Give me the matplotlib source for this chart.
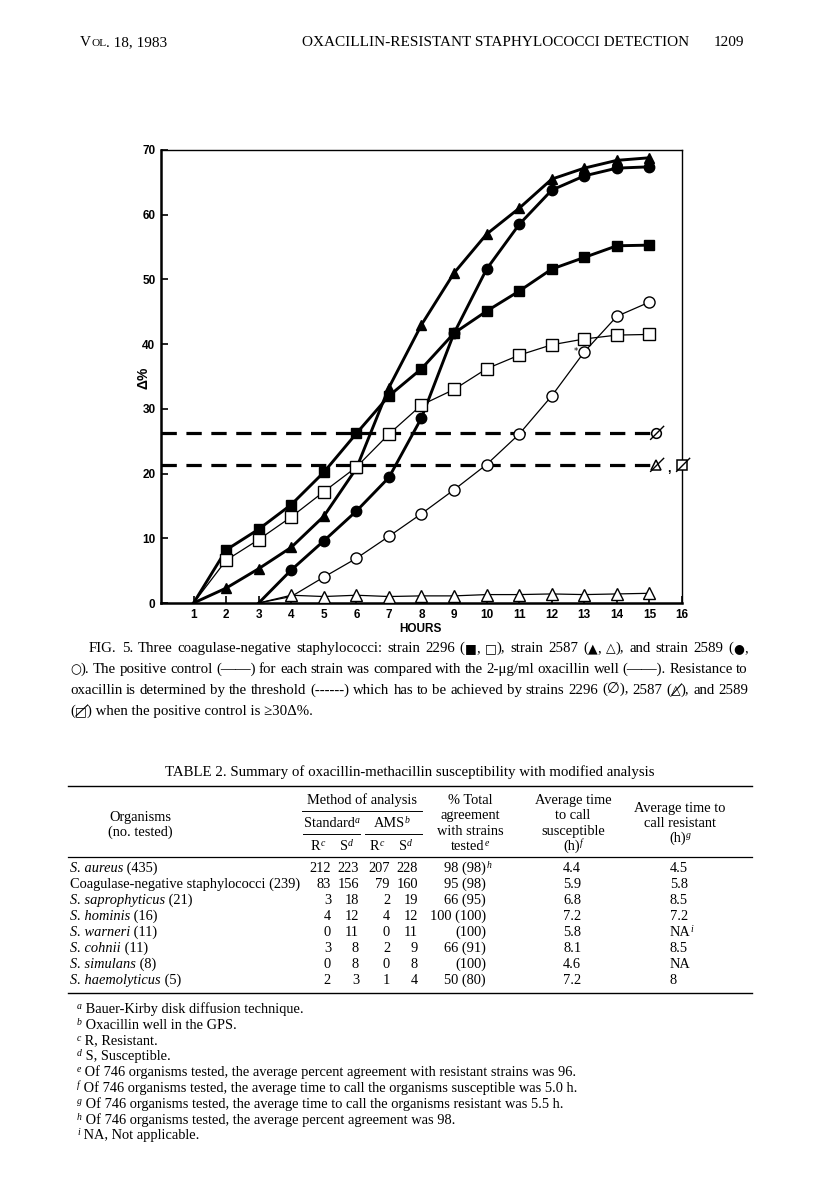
import numpy as np
import matplotlib.pyplot as plt
from matplotlib.path import Path

W, H = 816, 1201

# ---- chart data (delta % vs hours) ----
hours_a = [1, 2, 3, 4, 5, 6, 7, 8, 9, 10, 11, 12, 13, 14, 15]
hours_b = [3, 4, 5, 6, 7, 8, 9, 10, 11, 12, 13, 14, 15]
s2296_pos = [0, 8.2, 11.4, 15.2, 20.2, 26.2, 32.0, 36.2, 41.7, 45.1, 48.2, 51.6, 53.4, 55.2, 55.3]
s2296_oxa = [0, 6.6, 9.8, 13.3, 17.2, 21.0, 26.1, 30.6, 33.0, 36.2, 38.3, 39.9, 40.8, 41.4, 41.5]
s2587_pos = [0, 2.3, 5.3, 8.6, 13.4, 20.8, 33.3, 43.0, 51.0, 57.0, 61.0, 65.5, 67.2, 68.4, 68.8]
s2587_oxa = [0, 1.2, 1.0, 1.2, 1.0, 1.1, 1.1, 1.3, 1.3, 1.4, 1.3, 1.4, 1.5]
s2589_pos = [0, 5.1, 9.6, 14.2, 19.4, 28.6, 41.7, 51.6, 58.5, 63.8, 66.0, 67.2, 67.4]
s2589_oxa = [0, 1.0, 4.0, 6.9, 10.3, 13.8, 17.5, 21.4, 26.1, 32.0, 38.8, 44.3, 46.5]
thresholds = [26.2, 21.3]
threshold_end = 15.2
x_ticks = list(range(1, 17))
y_ticks = [0, 10, 20, 30, 40, 50, 60, 70]

# ---- table data ----
organisms = [("S. aureus", " (435)"), ("", "Coagulase-negative staphylococci (239)"),
             ("S. saprophyticus", " (21)"), ("S. hominis", " (16)"), ("S. warneri", " (11)"),
             ("S. cohnii", " (11)"), ("S. simulans", " (8)"), ("S. haemolyticus", " (5)")]
std_r = ["212", "83", "3", "4", "0", "3", "0", "2"]
std_s = ["223", "156", "18", "12", "11", "8", "8", "3"]
ams_r = ["207", "79", "2", "4", "0", "2", "0", "1"]
ams_s = ["228", "160", "19", "12", "11", "9", "8", "4"]
agreement = [("98 (98)", "h"), ("95 (98)", ""), ("66 (95)", ""), ("100 (100)", ""),
             ("(100)", ""), ("66 (91)", ""), ("(100)", ""), ("50 (80)", "")]
time_susc = ["4.4", "5.9", "6.8", "7.2", "5.8", "8.1", "4.6", "7.2"]
time_res = [("4.5", ""), ("5.8", ""), ("8.5", ""), ("7.2", ""), ("NA", "i"),
            ("8.5", ""), ("NA", ""), ("8", "")]
footnotes = [("a", "Bauer-Kirby disk diffusion technique."),
             ("b", "Oxacillin well in the GPS."),
             ("c", "R, Resistant."),
             ("d", "S, Susceptible."),
             ("e", "Of 746 organisms tested, the average percent agreement with resistant strains was 96."),
             ("f", "Of 746 organisms tested, the average time to call the organisms susceptible was 5.0 h."),
             ("g", "Of 746 organisms tested, the average time to call the organisms resistant was 5.5 h."),
             ("h", "Of 746 organisms tested, the average percent agreement was 98."),
             ("i", "NA, Not applicable.")]

SERIF = ['Liberation Serif', 'DejaVu Sans']
SANS = ['Liberation Sans', 'DejaVu Sans']
FS = 10.7
TFS = 10.4  # table body

fig = plt.figure(figsize=(W / 100, H / 100), dpi=100)
renderer = fig.canvas.get_renderer()


def put(x, y, s, **kw):
    kw.setdefault('family', SERIF)
    kw.setdefault('fontsize', FS)
    kw.setdefault('va', 'baseline')
    return fig.text(x / W, 1 - y / H, s, **kw)


def hline(x0, x1, y, lw=0.8):
    fig.add_artist(plt.Line2D([x0 / W, x1 / W], [1 - y / H] * 2, color='black', lw=lw))


def slash_over(t, y):
    # short stroke through a glyph (crossed triangle / square)
    bb = t.get_window_extent(renderer)
    base = H - y
    fig.add_artist(plt.Line2D([(bb.x0 + 1) / W, (bb.x1 + 1) / W],
                              [(base - 1) / H, (base + 10) / H], color='black', lw=0.8))


def place(pieces, x, y):
    """Draw (text, style) pieces side by side from x; returns end x."""
    cur = x
    for s, opt in pieces:
        opt = dict(opt)
        dy = opt.pop('dy', 0)
        sl = opt.pop('slash', False)
        t = put(cur, y + dy, s, **opt)
        cur += t.get_window_extent(renderer).width
        if sl:
            slash_over(t, y)
    return cur


def width(pieces):
    tot = 0
    for s, opt in pieces:
        opt = {k: v for k, v in opt.items() if k not in ('dy', 'slash')}
        t = put(0, 0, s, **opt)
        tot += t.get_window_extent(renderer).width
        t.remove()
    return tot


def run(x, y, parts, ha='left'):
    w = width(parts)
    x0 = x - w if ha == 'right' else (x - w / 2 if ha == 'center' else x)
    return place(parts, x0, y)


def justify(x0, x1, y, parts):
    tokens = [[]]
    for s, opt in parts:
        frags = s.split(' ')
        for k, fr in enumerate(frags):
            if k > 0:
                tokens.append([])
            if fr:
                tokens[-1].append((fr, opt))
    tokens = [t for t in tokens if t]
    widths = [width(t) for t in tokens]
    gap = (x1 - x0 - sum(widths)) / (len(tokens) - 1)
    cur = x0
    for t, w in zip(tokens, widths):
        place(t, cur, y)
        cur += w + gap


# ---- page header ----
run(80, 46, [("V", {'fontsize': 11}), ("OL", {'fontsize': 8.2}), (". 18, 1983", {'fontsize': 11})])
put(302, 46, "OXACILLIN-RESISTANT STAPHYLOCOCCI DETECTION", fontsize=11)
put(744, 46, "1209", ha='right', fontsize=11)

# ---- chart ----
ax = fig.add_axes([161 / W, 1 - 603 / H, (682 - 161) / W, (603 - 150) / H])
ax.set_xlim(0, 16)
ax.set_ylim(0, 70)

thick = dict(color='black', lw=2.1, ms=7.5, mec='black', zorder=4)
thin = dict(color='black', lw=0.9, ms=8, mec='black', mfc='white', mew=1.0, zorder=5)
ax.plot(hours_a, s2296_pos, marker='s', markevery=range(1, 15), **thick)
ax.plot(hours_a, s2587_pos, marker='^', markevery=range(1, 15), **thick)
ax.plot(hours_b, s2589_pos, marker='o', markevery=range(1, 13), **thick)
ax.plot(hours_a, s2296_oxa, marker='s', markevery=range(1, 15), **thin)
ax.plot(hours_b, s2589_oxa, marker='o', markevery=range(2, 13), **thin)
ax.plot(hours_b, s2587_oxa, marker='^', markevery=range(1, 13), **thin)

for yv in thresholds:
    ax.plot([0, threshold_end], [yv, yv], color='black', lw=2.3,
            dashes=(4.8, 3.0), zorder=3)

slash = Path([(-1, -1), (1.2, 1.2)], [Path.MOVETO, Path.LINETO])
end_marks = [(threshold_end, thresholds[0], 'o'), (threshold_end, thresholds[1], '^'),
             (16, thresholds[1], 's')]
for xm, ym, mk in end_marks:
    ax.plot([xm], [ym], marker=mk, ms=7, mfc='white', mec='black', mew=1.1,
            clip_on=False, zorder=6)
    ax.plot([xm], [ym], marker=slash, ms=11, mec='black', mew=1.0,
            clip_on=False, zorder=7)
ax.text(15.6, thresholds[1] - 0.6, ',', fontsize=9, ha='center', va='center',
        family=SANS, fontweight='bold')
ax.text(12.75, 38.9, '*', fontsize=6, ha='center', va='center')

ax.set_xticks(x_ticks)
ax.set_yticks(y_ticks)
ax.tick_params(direction='in', length=5, width=1.2, pad=4, labelsize=8.5)
for lab in ax.get_xticklabels() + ax.get_yticklabels():
    lab.set_family(SANS)
    lab.set_fontweight('bold')
for side in ['left', 'bottom']:
    ax.spines[side].set_linewidth(1.8)
for side in ['top', 'right']:
    ax.spines[side].set_linewidth(1.0)

put(143, 378, "\u0394%", family=SANS, fontweight='bold', fontsize=10,
    rotation=90, ha='center', va='center')
put(420, 632, "HOURS", family=SANS, fontweight='bold', fontsize=8.5, ha='center')

# ---- figure caption ----
sym = {'family': ['DejaVu Sans'], 'fontsize': 9}
justify(89, 748, 652, [("FIG. 5. Three coagulase-negative staphylococci: strain 2296 (", {}),
                       ("\u25a0", sym), (", ", {}), ("\u25a1", sym), ("), strain 2587 (", {}),
                       ("\u25b2", sym), (", ", {}), ("\u25b3", sym), ("), and strain 2589 (", {}),
                       ("\u25cf", sym), (",", {})])
justify(70, 748, 673, [("\u25cb", sym),
                       ("). The positive control (\u2014\u2014) for each strain was compared with the "
                        "2-\u03bcg/ml oxacillin well (\u2014\u2014). Resistance to", {})])
justify(70, 748, 694, [("oxacillin is determined by the threshold (------) which has to be achieved by "
                        "strains 2296 (\u2205), 2587 (", {}),
                       ("\u25b3", dict(sym, slash=True)), ("), and 2589", {})])
run(70, 715, [("(", {}), ("\u25a1", dict(sym, slash=True)),
              (") when the positive control is \u226530\u0394%.", {})])

# ---- table ----
put(410, 776, "TABLE 2. Summary of oxacillin-methacillin susceptibility with modified analysis",
    ha='center')
hline(68, 752, 786, lw=1.0)
put(362, 804, "Method of analysis", ha='center', fontsize=TFS)
hline(302, 422, 811, lw=0.7)
put(140, 821, "Organisms", ha='center', fontsize=TFS)
put(140, 836, "(no. tested)", ha='center', fontsize=TFS)
sup = {'fontsize': 7, 'dy': -4, 'style': 'italic'}
tf = {'fontsize': TFS}
run(332, 827, [("Standard", tf), ("a", sup)], ha='center')
run(392, 827, [("AMS", tf), ("b", sup)], ha='center')
hline(303, 360, 834, lw=0.7)
hline(365, 422, 834, lw=0.7)
for xc, letter, s in [(318, "R", "c"), (346, "S", "d"), (377, "R", "c"), (405, "S", "d")]:
    run(xc, 850, [(letter, tf), (s, sup)], ha='center')
for i, line in enumerate(["% Total", "agreement", "with strains"]):
    put(470, 804 + 15.3 * i, line, ha='center', fontsize=TFS)
run(470, 850, [("tested", tf), ("e", sup)], ha='center')
for i, line in enumerate(["Average time", "to call", "susceptible"]):
    put(573, 804 + 15.3 * i, line, ha='center', fontsize=TFS)
run(573, 850, [("(h)", tf), ("f", sup)], ha='center')
for i, line in enumerate(["Average time to", "call resistant"]):
    put(680, 812 + 15.3 * i, line, ha='center', fontsize=TFS)
run(680, 842, [("(h)", tf), ("g", sup)], ha='center')
hline(68, 752, 857, lw=0.9)

row_y0, row_dy = 872, 16.0
for i in range(len(organisms)):
    y = row_y0 + row_dy * i
    ital, rest = organisms[i]
    parts = ([(ital, dict(tf, style='italic'))] if ital else []) + [(rest, tf)]
    run(70, y, parts)
    put(331, y, std_r[i], ha='right', fontsize=TFS)
    put(359, y, std_s[i], ha='right', fontsize=TFS)
    put(390, y, ams_r[i], ha='right', fontsize=TFS)
    put(418, y, ams_s[i], ha='right', fontsize=TFS)
    val, note = agreement[i]
    put(486, y, val, ha='right', fontsize=TFS)
    if note:
        put(487, y - 4, note, fontsize=7, style='italic')
    put(563, y, time_susc[i], fontsize=TFS)
    val, note = time_res[i]
    run(670, y, [(val, tf)] + ([(note, sup)] if note else []))
hline(68, 752, 993, lw=1.0)

for i, (mark, text) in enumerate(footnotes):
    y = 1013 + 15.8 * i
    run(77, y, [(mark, sup), (" " + text, tf)])

fig.savefig("out.png", dpi=100)
